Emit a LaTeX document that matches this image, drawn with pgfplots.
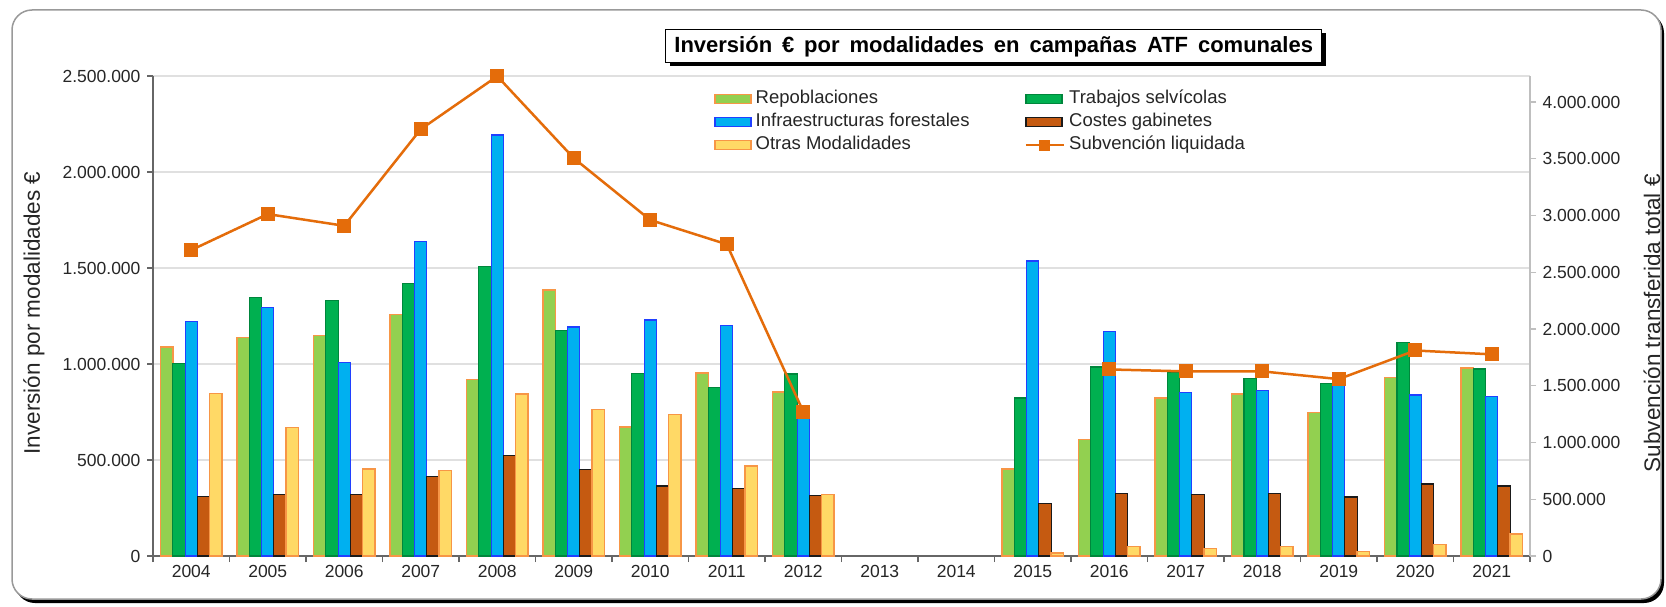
\documentclass[border=0pt]{standalone}
\usepackage{fontspec}
\setmainfont{Liberation Sans}
\usepackage{pgfplots}
\pgfplotsset{compat=1.18}
\definecolor{repF}{HTML}{92D050}
\definecolor{repD}{HTML}{F79646}
\definecolor{trabF}{HTML}{00B050}
\definecolor{trabD}{HTML}{00863C}
\definecolor{infF}{HTML}{00B0F0}
\definecolor{infD}{HTML}{2040FF}
\definecolor{cosF}{HTML}{C55A11}
\definecolor{cosD}{HTML}{1A1A1A}
\definecolor{otrF}{HTML}{FFD966}
\definecolor{otrD}{HTML}{F79646}
\definecolor{lineC}{HTML}{E46C0A}
\definecolor{gridC}{HTML}{E0E0E0}
\definecolor{axC}{HTML}{666666}
\definecolor{axR}{HTML}{BFBFBF}
\definecolor{txtC}{HTML}{262626}
\pgfplotsset{
 barleg/.style={legend image code/.code={\draw[##1, line width=1.5pt] (0pt,-4.5pt) rectangle (36pt,4.5pt);}},
 lineleg/.style={legend image code/.code={\draw[##1] (0pt,0pt) -- (38pt,0pt); \draw[##1] plot coordinates {(19pt,0pt)};}},
}
\begin{document}
\begin{tikzpicture}[x=1pt,y=1pt]
\useasboundingbox (0,0) rectangle (1666,606);
% outer frame with shadow
\fill[black, rounded corners=20pt] (15,3) rectangle (1664,593);
\draw[gray!80, fill=white, line width=1.5pt, rounded corners=20pt] (12,7) rectangle (1661,596);
% title
\fill[black] (669.7,539.5) rectangle (1325.7,572.5);
\node[draw=black, line width=1pt, fill=white, minimum width=656pt, minimum height=33pt, inner sep=0pt,
      font=\bfseries\fontsize{22}{26}\selectfont] at (993.7,559.5)
      {\spaceskip=0.45em Inversión € por modalidades en campañas ATF comunales};

\begin{axis}[
 at={(153pt,50pt)}, anchor=south west,
 scale only axis, width=1377pt, height=480pt,
 xmin=-0.5, xmax=17.5, ymin=0, ymax=2500000,
 axis x line*=bottom, axis y line*=left,
 axis line style={draw=axC, line width=1.2pt},
 tick align=outside,
 major tick length=6pt,
 tick style={draw=axC, line width=1.2pt},
 xtick={-0.5,0.5,...,17.5}, xticklabels={},
 extra x ticks={0,1,2,3,4,5,6,7,8,9,10,11,12,13,14,15,16,17},
 extra x tick labels={2004,2005,2006,2007,2008,2009,2010,2011,2012,2013,2014,2015,2016,2017,2018,2019,2020,2021},
 extra x tick style={major tick length=0pt, tick label style={yshift=-6pt}},
 ytick={0,500000,1000000,1500000,2000000,2500000},
 scaled y ticks=false,
 /pgf/number format/1000 sep={.},
 /pgf/number format/assume math mode=true,
 yticklabel style={/pgf/number format/fixed, xshift=-3pt},
 ticklabel style={font=\fontsize{17.5}{20}\selectfont, text=txtC},
 ymajorgrids, grid style={draw=gridC, line width=1.2pt},
 ylabel={Inversión por modalidades €},
 ylabel style={at={(axis description cs:-0.0864,0.506)}, anchor=center, font=\fontsize{22.5}{26}\selectfont, text=txtC},
 legend columns=2,
 legend cell align=left,
 legend style={at={(axis description cs:0.4074,0.971)}, anchor=north west, draw=none, fill=white,
   inner sep=0pt, column sep=0pt, row sep=5pt, font=\fontsize{18.5}{22}\selectfont,
   nodes={inner xsep=4pt, inner ysep=0pt, text height=13.5pt, text depth=4.5pt, text=txtC}},
]
\addplot[ybar, bar width=0.16, bar shift=-0.32, fill=repF, draw=repD, line width=1.5pt, barleg] coordinates {
 (0,1088000) (1,1139000) (2,1149000) (3,1259000) (4,920000) (5,1386000) (6,673000) (7,954000) (8,853000)
 (11,452000) (12,606000) (13,823000) (14,843000) (15,747000) (16,930000) (17,980000)};
\addlegendentry{\makebox[265pt][l]{Repoblaciones}}
\addplot[ybar, bar width=0.16, bar shift=-0.16, fill=trabF, draw=trabD, line width=1.2pt, barleg] coordinates {
 (0,1004000) (1,1345000) (2,1329000) (3,1420000) (4,1506000) (5,1175000) (6,950000) (7,877000) (8,948000)
 (11,823000) (12,984000) (13,954000) (14,924000) (15,898000) (16,1110000) (17,974000)};
\addlegendentry{Trabajos selvícolas}
\addplot[ybar, bar width=0.16, bar shift=0, fill=infF, draw=infD, line width=1.2pt, barleg] coordinates {
 (0,1221000) (1,1295000) (2,1008000) (3,1637000) (4,2193000) (5,1193000) (6,1229000) (7,1201000) (8,735000)
 (11,1536000) (12,1169000) (13,853000) (14,863000) (15,894000) (16,839000) (17,829000)};
\addlegendentry{\makebox[265pt][l]{Infraestructuras forestales}}
\addplot[ybar, bar width=0.16, bar shift=0.16, fill=cosF, draw=cosD, line width=1.2pt, barleg] coordinates {
 (0,311000) (1,321000) (2,321000) (3,412000) (4,522000) (5,452000) (6,365000) (7,351000) (8,315000)
 (11,275000) (12,327000) (13,321000) (14,327000) (15,307000) (16,375000) (17,365000)};
\addlegendentry{Costes gabinetes}
\addplot[ybar, bar width=0.16, bar shift=0.32, fill=otrF, draw=otrD, line width=1.5pt, barleg] coordinates {
 (0,847000) (1,669000) (2,452000) (3,446000) (4,843000) (5,763000) (6,737000) (7,468000) (8,321000)
 (11,16000) (12,50000) (13,40000) (14,50000) (15,24000) (16,60000) (17,114000)};
\addlegendentry{\makebox[265pt][l]{Otras Modalidades}}
\addlegendimage{lineleg, draw=lineC, line width=2.5pt, mark=square*, mark size=5pt, mark options={fill=lineC, draw=lineC, line width=0pt}}
\addlegendentry{Subvención liquidada}
\end{axis}

\begin{axis}[
 at={(153pt,50pt)}, anchor=south west,
 scale only axis, width=1377pt, height=480pt,
 xmin=-0.5, xmax=17.5, ymin=0, ymax=4230000,
 axis y line*=right, axis x line=none,
 axis line style={draw=axR, line width=1.2pt},
 tick align=outside,
 major tick length=6pt,
 tick style={draw=axR, line width=1.2pt},
 ytick={0,500000,1000000,1500000,2000000,2500000,3000000,3500000,4000000},
 scaled y ticks=false,
 /pgf/number format/1000 sep={.},
 /pgf/number format/assume math mode=true,
 yticklabel style={/pgf/number format/fixed, xshift=3pt},
 ticklabel style={font=\fontsize{17.5}{20}\selectfont, text=txtC},
 ylabel={Subvención transferida total €},
 ylabel style={at={(axis description cs:1.0886,0.485)}, anchor=center, font=\fontsize{22.5}{26}\selectfont, text=txtC},
 unbounded coords=jump,
]
\addplot[draw=lineC, line width=2.5pt, mark=square*, mark size=6.5pt, mark options={fill=lineC, draw=lineC, line width=0pt}] coordinates {
 (0,2696000) (1,3013000) (2,2910000) (3,3761000) (4,4228000) (5,3506000) (6,2961000) (7,2747000) (8,1273000)
 (9,nan) (10,nan) (11,nan)
 (12,1644000) (13,1627000) (14,1627000) (15,1559000) (16,1811000) (17,1777000)};
\end{axis}
\end{tikzpicture}
\end{document}
